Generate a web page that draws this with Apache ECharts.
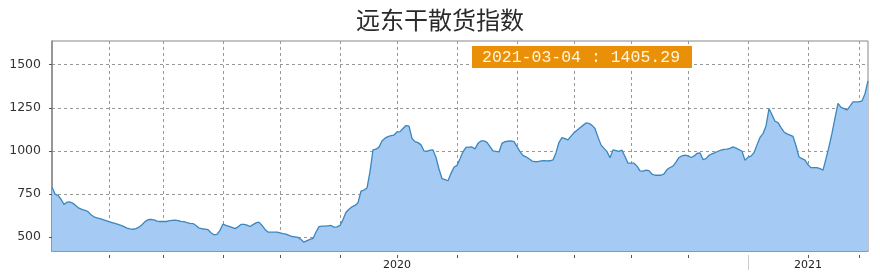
<!DOCTYPE html>
<html>
<head>
<meta charset="utf-8">
<script src="https://cdn.jsdelivr.net/npm/echarts@6/dist/echarts.min.js"></script>
<style>html,body{margin:0;padding:0;background:#fff;}#c{width:880px;height:278px;}</style>
</head>
<body>
<div id="c"></div>
<script>
var titleText = '远东干散货指数';
var lastDate = '2021-03-04';
// index values, one per point along the time axis
var values = [
790,750,742,720,690,703,704,696,682,668,661,656,648,630,618,612,607,602,596,590,
585,580,574,568,561,553,548,546,550,558,572,590,601,603,600,593,591,591,591,594,
597,599,596,592,590,584,580,579,568,553,549,547,544,526,514,516,540,576,569,563,
557,550,560,574,574,570,562,573,583,587,568,545,530,529,529,529,525,521,518,511,
504,502,499,487,471,480,487,493,530,561,564,564,566,568,558,560,568,602,645,662,
676,684,700,767,773,785,880,1006,1010,1022,1057,1074,1083,1088,1092,1110,1112,1130,1147,1144,
1073,1054,1048,1035,1000,998,1004,1006,962,895,840,834,827,870,905,916,955,995,1021,1022,
1023,1012,1044,1058,1058,1050,1025,1000,997,994,1044,1054,1056,1058,1054,1025,996,974,966,955,
941,938,938,942,944,942,943,948,990,1050,1077,1071,1064,1086,1105,1120,1134,1148,1162,1160,
1148,1130,1080,1035,1015,996,960,1006,1002,998,1004,968,929,929,929,912,884,883,888,886,
865,859,859,859,867,892,904,912,935,962,971,975,971,962,970,985,989,950,955,975,
983,990,998,1005,1009,1010,1015,1023,1016,1008,998,945,964,970,990,1035,1078,1100,1145,1245,
1210,1172,1164,1135,1110,1099,1092,1084,1030,965,955,947,920,903,903,903,897,889,955,1025,
1103,1190,1275,1252,1245,1237,1260,1284,1284,1284,1290,1332,1405.29
];
// x tick positions (point indices) and their labels
var tickIdx = [19,37,57,76,96,115,135,155,174,193,212,232,252,269];
var tickLabels = {115:'2020', 252:'2021'};
var yTicks = [500,750,1000,1250,1500];
var yMin = 420, yMax = 1637;
var sepIdx = 232;

var cats = values.map(function(v,i){ return tickLabels[i] || ''; });
var isTick = function(i){ return tickIdx.indexOf(i) >= 0; };

var chart = echarts.init(document.getElementById('c'), null, {renderer:'canvas'});
chart.setOption({
  animation:false,
  backgroundColor:'#fff',
  title:{text:titleText,left:'center',top:3,textStyle:{fontFamily:'Noto Sans CJK SC',fontSize:24,fontWeight:'normal',color:'#2a2a2a'}},
  grid:{left:52,right:12,top:41,bottom:27,show:true,borderColor:'#888',borderWidth:1},
  xAxis:[
    {type:'category',data:cats,boundaryGap:false,
     axisLine:{show:true,lineStyle:{color:'#888',width:1.5}},
     axisTick:{show:false},axisLabel:{show:false},
     splitLine:{show:true,interval:function(i){return isTick(i);},lineStyle:{color:'#999',type:[3,3],width:1}}},
    {type:'category',data:cats,boundaryGap:false,position:'bottom',offset:4,
     axisLine:{show:false},
     axisTick:{show:true,length:3,interval:function(i){return isTick(i);},lineStyle:{color:'#555'}},
     axisLabel:{show:true,interval:function(i){return !!tickLabels[i];},color:'#222',fontSize:11,fontFamily:'DejaVu Sans',margin:5},
     splitLine:{show:false}},
    {type:'category',data:cats,boundaryGap:false,position:'bottom',offset:4,
     axisLine:{show:false},
     axisTick:{show:true,length:15,interval:function(i){return i===sepIdx;},lineStyle:{color:'#ccc'}},
     axisLabel:{show:false},splitLine:{show:false}}
  ],
  yAxis:[{type:'value',min:yMin,max:yMax,
     axisLine:{show:true,lineStyle:{color:'#888',width:1.5}},
     axisTick:{show:true,length:3,customValues:yTicks,lineStyle:{color:'#555'}},
     axisLabel:{show:true,customValues:yTicks,formatter:function(v){return String(v);},color:'#333',fontSize:12.5,fontFamily:'DejaVu Sans',margin:11},
     splitLine:{show:true,lineStyle:{color:'#999',type:[3,3],width:1}}}],
  series:[{type:'line',data:values,xAxisIndex:0,symbol:'none',
    lineStyle:{color:'#3a86bd',width:1.3},
    areaStyle:{color:'#a5cbf4',opacity:1},
    z:3}],
  graphic:[{type:'group',left:472,top:46,z:100,children:[
    {type:'rect',z:100,shape:{x:0,y:0,width:220,height:22},style:{fill:'#ea9008'}},
    {type:'text',z:101,style:{text:lastDate+' : '+values[values.length-1].toFixed(2),fill:'#fff6dc',font:'16.5px "Liberation Mono"',x:10,y:3}}
  ]}]
});
</script>
</body>
</html>
